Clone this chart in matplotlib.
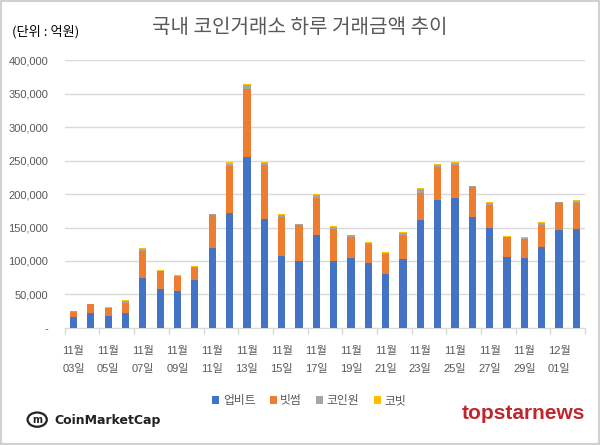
import matplotlib
matplotlib.use("Agg")
import matplotlib.pyplot as plt
import numpy as np
from matplotlib.patches import Rectangle, Circle

plt.rcParams['font.family'] = ['Noto Sans CJK KR', 'DejaVu Sans']

days = ["11월\n03일", "11월\n04일", "11월\n05일", "11월\n06일", "11월\n07일", "11월\n08일",
        "11월\n09일", "11월\n10일", "11월\n11일", "11월\n12일", "11월\n13일", "11월\n14일",
        "11월\n15일", "11월\n16일", "11월\n17일", "11월\n18일", "11월\n19일", "11월\n20일",
        "11월\n21일", "11월\n22일", "11월\n23일", "11월\n24일", "11월\n25일", "11월\n26일",
        "11월\n27일", "11월\n28일", "11월\n29일", "11월\n30일", "12월\n01일", "12월\n02일"]

upbit = [15900, 21900, 17400, 21900, 75000, 58600, 54700, 72100, 119800, 172000,
         255000, 163000, 107800, 100400, 139200, 100400, 104900, 97400, 81000, 103400,
         161500, 191300, 194300, 166000, 149600, 106400, 104900, 121300, 146600, 148100]
bithumb = [8500, 13400, 12400, 15900, 40300, 25900, 22300, 18300, 48700, 70000,
           101300, 80500, 58200, 52700, 55100, 47700, 30800, 27300, 29800, 34800,
           39800, 48300, 48700, 44200, 33800, 28800, 28300, 32300, 39800, 38300]
coinone = [1000, 700, 600, 2400, 2500, 900, 900, 900, 1500, 3500,
           6000, 3000, 3000, 1500, 3500, 2000, 2500, 2000, 1500, 3000,
           6000, 3000, 3000, 1200, 3000, 1200, 1200, 3000, 1200, 2500]
korbit = [600, 300, 400, 1500, 1000, 600, 600, 600, 600, 2000,
          1500, 1500, 1500, 1000, 1500, 1500, 1000, 1500, 1000, 1900,
          1900, 1500, 1500, 800, 2000, 1300, 1800, 1900, 800, 1500]

series = [("업비트", upbit, "#4472C4"), ("빗썸", bithumb, "#ED7D31"),
          ("코인원", coinone, "#A5A5A5"), ("코빗", korbit, "#FFC000")]

lab_font = ['Liberation Sans', 'Noto Sans CJK KR']

fig = plt.figure(figsize=(6, 4.45), dpi=100)
ax = fig.add_axes([0.108, 0.263, 0.867, 0.602])

x = np.arange(len(days))
bottom = np.zeros(len(days))
handles = []
for name, vals, col in series:
    b = ax.bar(x, vals, width=0.42, bottom=bottom, color=col, label=name, zorder=3)
    handles.append(b)
    bottom += np.array(vals)

ax.set_xlim(-0.5, len(days) - 0.5)
ax.set_ylim(0, 400000)
yt = np.arange(0, 400001, 50000)
ax.set_yticks(yt)
ax.set_yticklabels(["-"] + [f"{v:,}" for v in yt[1:]], color="#595959", fontsize=8,
                   family=lab_font)
ax.yaxis.grid(True, color="#D9D9D9", linewidth=1, zorder=0)
ax.tick_params(axis='y', length=0, pad=12)

ax.set_xticks(x[::2])
ax.set_xticklabels(days[::2], color="#595959", fontsize=8, linespacing=2.0,
                   multialignment="center", family=lab_font)
ax.set_xticks(np.arange(-0.5, len(days), 2), minor=True)
ax.tick_params(axis='x', which='major', length=0, pad=13)
ax.tick_params(axis='x', which='minor', length=4, color="#D9D9D9", width=1)

for s in ["top", "right", "left"]:
    ax.spines[s].set_visible(False)
ax.spines["bottom"].set_color("#D9D9D9")

fig.text(0.5, 0.938, "국내 코인거래소 하루 거래금액 추이", ha="center", va="center",
         fontsize=14.5, color="#595959")
fig.text(0.02, 0.928, "(단위 : 억원)", ha="left", va="center", fontsize=9.5, color="#000000")

leg = fig.legend(handles=handles, labels=[s[0] for s in series], loc="center",
                 bbox_to_anchor=(0.515, 0.1), ncol=4, frameon=False, fontsize=8.5,
                 handlelength=0.6, handleheight=0.6, handletextpad=0.3, columnspacing=1.2)
for t in leg.get_texts():
    t.set_color("#595959")

# CoinMarketCap logo
fig.text(0.09, 0.055, "CoinMarketCap", ha="left", va="center", fontsize=9,
         fontweight="bold", color="#222222", family=["DejaVu Sans"])
fig.patches.append(Circle((0.062, 0.057), 0.016, transform=fig.transFigure,
                          fill=False, edgecolor="#222222", linewidth=1.6))
fig.text(0.062, 0.057, "m", ha="center", va="center", fontsize=7, fontweight="bold",
         color="#222222", family=["DejaVu Sans"])

fig.text(0.975, 0.07, "topstarnews", ha="right", va="center", fontsize=15,
         fontweight="bold", color="#C0272D", family=["Liberation Sans"])

fig.patches.append(Rectangle((0.002, 0.002), 0.996, 0.996, transform=fig.transFigure,
                             fill=False, edgecolor="#D0D0D0", linewidth=1.5))

fig.savefig("out.png", dpi=100, facecolor="white")
